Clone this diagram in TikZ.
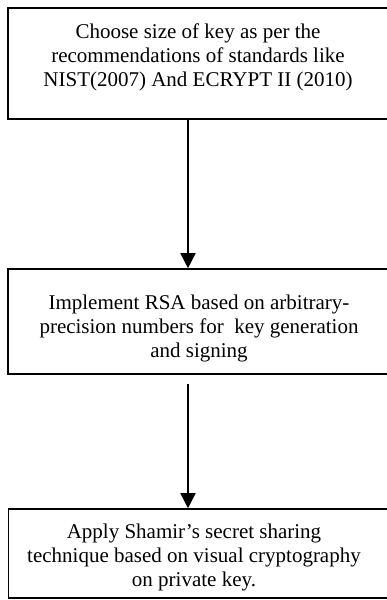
\documentclass[tikz,border=0pt]{standalone}
\usepackage{fontspec}
\setmainfont{Liberation Serif}
\usetikzlibrary{arrows.meta}

\begin{document}
\begin{tikzpicture}[x=1pt,y=-1pt,
    box/.style={draw, line width=1.6pt, rectangle, inner sep=0pt, minimum width=383pt},
    txt/.style={align=center, inner sep=0pt, anchor=north, font=\fontsize{21}{23.8}\selectfont},
    arr/.style={line width=1.6pt, -{Triangle[width=15pt,length=15pt]}}]

\useasboundingbox (0,0) rectangle (387,600);

% Boxes
\node[box, minimum height=111pt] (b1) at (199.5,63.5) {};
\node[box, minimum height=105pt] (b2) at (199.5,321.5) {};
\node[box, minimum height=89pt]  (b3) at (200,553.5) {};

% Box texts
\node[txt] (t1) at (198,24) {Choose size of key as per the\\recommendations of standards like\\NIST(2007) And ECRYPT II (2010)};
\node[txt] (t2) at (199,295) {Implement RSA based on arbitrary-\\precision numbers for\ \ key generation\\and signing};
\node[txt] (t3) at (194,524) {Apply Shamir's secret sharing\\technique based on visual cryptography\\on private key.};

% Arrows
\coordinate (ax) at (188,0);
\draw[arr] (b1.south -| ax) -- (b2.north -| ax);
\draw[arr, shorten <=9pt] (b2.south -| ax) -- (b3.north -| ax);

\end{tikzpicture}
\end{document}
